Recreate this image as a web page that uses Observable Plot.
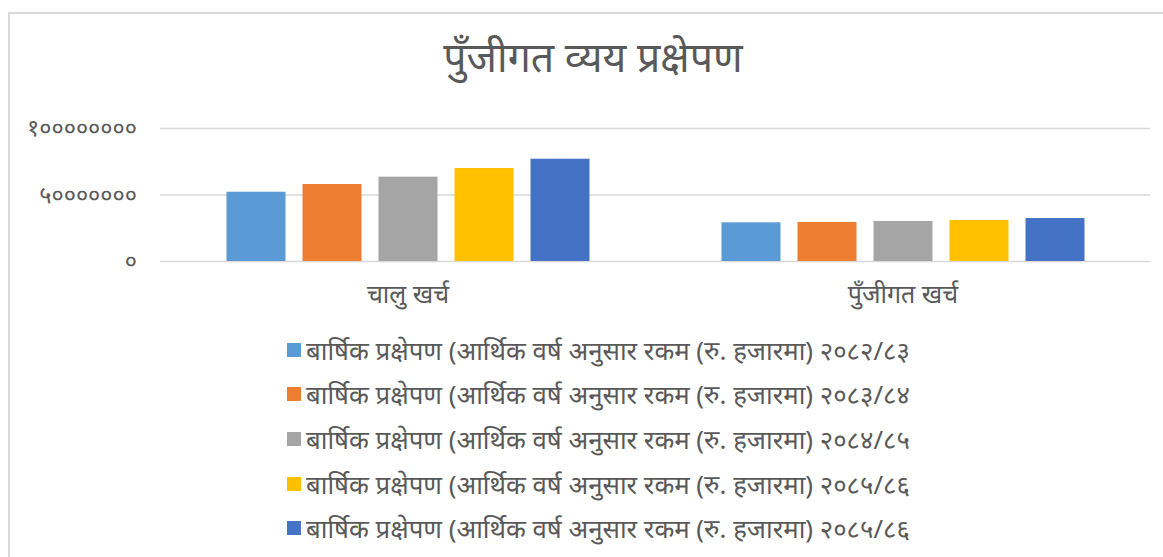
<!DOCTYPE html>
<html>
<head>
<meta charset="utf-8">
<script src="https://cdn.jsdelivr.net/npm/d3@7"></script>
<script src="https://cdn.jsdelivr.net/npm/@observablehq/plot@0.6"></script>
<style>
  html, body { margin: 0; padding: 0; background: #fff; }
  #wrap { position: relative; width: 1163px; height: 557px; overflow: hidden; font-family: "Noto Sans", sans-serif; color: #595959; }
  #frame { position: absolute; left: 8px; top: 12px; width: 1200px; height: 600px; border-left: 2px solid #d9d9d9; border-top: 2px solid #d9d9d9; }
  #title { position: absolute; left: 243px; width: 700px; top: 36px; line-height: 1; text-align: center; font-size: 41px; color: #595959; white-space: nowrap; }
  #plot { position: absolute; left: 0; top: 110px; }
  .leg { position: absolute; left: 287px; font-size: 25.8px; color: #595959; white-space: nowrap; display: flex; align-items: center; }
  .leg .sw { width: 14px; height: 14px; margin-right: 5px; flex: none; }
</style>
</head>
<body>
<div id="wrap">
  <div id="frame"></div>
  <div id="title"></div>
  <div id="plot"></div>
  <div id="legend"></div>
</div>
<script>
const titleText = "पुँजीगत व्यय प्रक्षेपण";
const categories = ["चालु खर्च", "पुँजीगत खर्च"];
const seriesNames = [
  "बार्षिक प्रक्षेपण (आर्थिक वर्ष अनुसार रकम (रु. हजारमा) २०८२/८३",
  "बार्षिक प्रक्षेपण (आर्थिक वर्ष अनुसार रकम (रु. हजारमा) २०८३/८४",
  "बार्षिक प्रक्षेपण (आर्थिक वर्ष अनुसार रकम (रु. हजारमा) २०८४/८५",
  "बार्षिक प्रक्षेपण (आर्थिक वर्ष अनुसार रकम (रु. हजारमा) २०८५/८६",
  "बार्षिक प्रक्षेपण (आर्थिक वर्ष अनुसार रकम (रु. हजारमा) २०८५/८६"
];
const valuesCurrent = [52100000, 57900000, 63400000, 69900000, 76900000];
const valuesCapital = [29100000, 29300000, 30100000, 30800000, 32300000];
const yTicks = [0, 50000000, 100000000];
const colors = ["#5B9BD5", "#ED7D31", "#A5A5A5", "#FFC000", "#4472C4"];

const seriesKeys = seriesNames.map((_, i) => "s" + i);
const data = [];
[valuesCurrent, valuesCapital].forEach((vals, ci) => {
  vals.forEach((v, si) => data.push({category: categories[ci], key: seriesKeys[si], value: v}));
});

const devDigits = "०१२३४५६७८९";
const toDev = d => String(d).replace(/\d/g, c => devDigits[+c]);

document.getElementById("title").textContent = titleText;

const chart = Plot.plot({
  width: 1163,
  height: 201,
  marginLeft: 159.5,
  marginRight: 13.5,
  marginTop: 18,
  marginBottom: 50,
  style: {fontFamily: "'Noto Sans', sans-serif", color: "#595959", background: "transparent"},
  fx: {domain: categories, paddingInner: 0, paddingOuter: 0, label: null},
  x: {domain: seriesKeys, paddingInner: 0.224, paddingOuter: 0.868, axis: null},
  y: {domain: [0, 100000000], ticks: yTicks, label: null, axis: null},
  color: {domain: seriesKeys, range: colors},
  marks: [
    Plot.ruleY(yTicks, {stroke: "#d9d9d9", strokeWidth: 1.5}),
    Plot.barY(data, {fx: "category", x: "key", y: "value", fill: "key"}),
    Plot.axisY({ticks: yTicks, tickFormat: toDev, tickSize: 0, tickPadding: 23.5, fontSize: 23.5, label: null, facetAnchor: "left"}),
    Plot.axisFx({anchor: "bottom", tickSize: 0, tickPadding: 24, fontSize: 25, label: null})
  ]
});
document.getElementById("plot").appendChild(chart);

const legend = document.getElementById("legend");
const rowY = [350, 394, 438.5, 483.5, 527.5];
seriesNames.forEach((name, i) => {
  const div = document.createElement("div");
  div.className = "leg";
  div.style.top = (rowY[i] - 18) + "px";
  div.style.height = "36px";
  const sw = document.createElement("span");
  sw.className = "sw";
  sw.style.background = colors[i];
  const tx = document.createElement("span");
  tx.textContent = name;
  div.appendChild(sw);
  div.appendChild(tx);
  legend.appendChild(div);
});
</script>
</body>
</html>
